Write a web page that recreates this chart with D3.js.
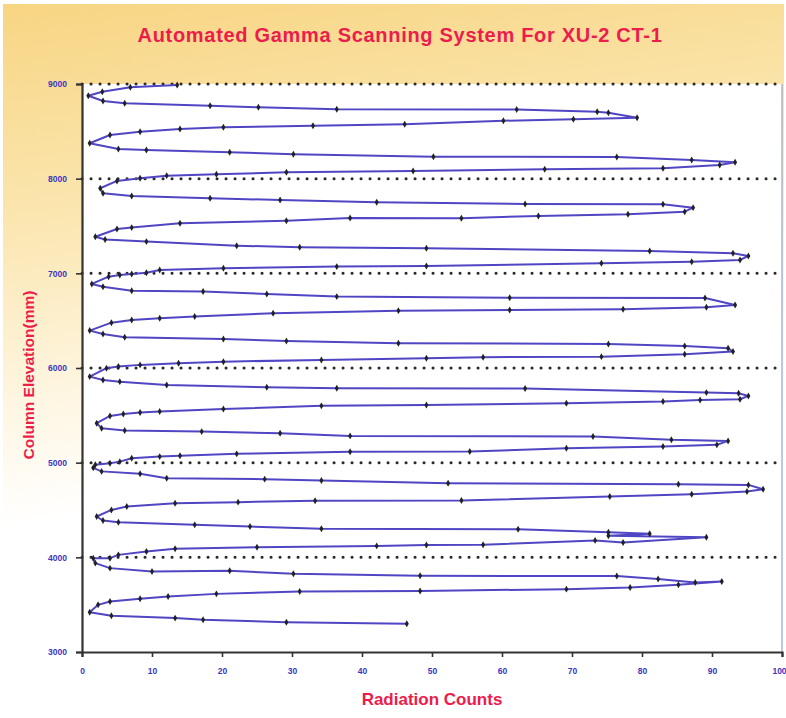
<!DOCTYPE html>
<html>
<head>
<meta charset="utf-8">
<script src="https://cdn.jsdelivr.net/npm/d3@7"></script>
<style>
  body { margin: 0; background: #fff; }
  svg { display: block; }
</style>
</head>
<body>
<svg class="chart" width="786" height="718"></svg>
<script>
// scan readings, in scan order (top of column to bottom)
const radiationCounts = [
  13.6, 6.9, 2.9, 0.9,
  3.0, 6.1, 18.3, 25.2, 36.4, 62.1, 73.6, 75.2, 79.3,
  70.2, 60.2, 46.1, 33.0, 20.2, 14.0, 8.3, 4.0, 1.1,
  5.2, 9.2, 21.1, 30.2, 50.2, 76.4, 87.1, 93.3,
  91.1, 83.0, 66.1, 47.3, 29.2, 19.2, 12.1, 8.3, 5.0, 2.6,
  3.0, 7.1, 18.3, 28.3, 42.1, 63.3, 83.0, 87.3,
  86.1, 78.0, 65.2, 54.2, 38.3, 29.2, 14.0, 7.1, 5.0, 1.9,
  3.3, 9.2, 22.1, 31.1, 49.2, 81.1, 93.0, 95.2,
  94.0, 87.1, 74.2, 49.2, 36.4, 20.2, 11.1, 9.2, 7.1, 5.4, 3.8, 1.4,
  3.0, 7.1, 17.3, 26.4, 36.4, 61.1, 89.0, 93.3,
  89.2, 77.3, 61.1, 45.2, 27.3, 16.1, 11.1, 7.1, 4.2, 1.1,
  3.0, 6.1, 20.2, 29.2, 45.2, 75.2, 86.1, 92.3, 93.0,
  86.1, 74.2, 57.3, 49.2, 34.2, 20.2, 13.8, 8.3, 5.2, 3.5, 1.1,
  3.0, 5.4, 12.1, 26.4, 36.4, 63.3, 89.2, 93.8, 95.2,
  94.0, 88.3, 83.0, 69.2, 49.2, 34.2, 20.2, 11.1, 8.3, 5.9, 4.0, 2.1,
  2.8, 6.1, 17.1, 28.3, 38.3, 73.0, 84.2, 92.3,
  90.7, 83.0, 69.2, 55.4, 38.3, 22.1, 14.0, 11.1, 7.1, 5.4, 4.0, 1.9, 1.6,
  2.8, 8.3, 12.1, 26.1, 34.2, 52.3, 85.2, 95.2, 97.3,
  95.0, 87.1, 75.4, 54.2, 33.3, 22.3, 13.3, 6.4, 4.2, 2.1,
  3.0, 5.2, 16.1, 24.0, 34.2, 62.3, 75.2, 81.1, 75.2, 89.2,
  77.3, 73.3, 57.3, 49.2, 42.1, 25.0, 13.3, 9.2, 5.2, 4.0, 1.6, 1.9,
  4.0, 10.0, 21.1, 30.2, 48.3, 76.4, 82.3, 87.6, 91.4,
  85.2, 78.3, 69.2, 48.3, 31.1, 19.2, 12.3, 8.3, 4.0, 2.3, 1.1,
  4.2, 13.3, 17.3, 29.2, 46.4
];
const elevations = [
  8989, 8965, 8919, 8876,
  8820, 8796, 8771, 8754, 8733, 8730, 8707, 8697, 8644,
  8627, 8612, 8574, 8560, 8543, 8525, 8496, 8461, 8374,
  8314, 8303, 8279, 8258, 8232, 8230, 8197, 8173,
  8145, 8110, 8099, 8081, 8068, 8046, 8032, 8004, 7976, 7899,
  7846, 7817, 7793, 7775, 7751, 7733, 7730, 7694,
  7651, 7624, 7606, 7582, 7585, 7556, 7529, 7483, 7469, 7387,
  7358, 7335, 7292, 7276, 7265, 7236, 7212, 7184,
  7141, 7123, 7107, 7078, 7071, 7054, 7036, 7007, 6994, 6983, 6965, 6888,
  6859, 6817, 6807, 6782, 6754, 6743, 6740, 6666,
  6642, 6621, 6613, 6606, 6579, 6543, 6526, 6508, 6479, 6395,
  6360, 6325, 6307, 6286, 6262, 6254, 6233, 6209, 6174,
  6146, 6120, 6114, 6103, 6085, 6067, 6051, 6033, 6015, 5998, 5909,
  5874, 5856, 5821, 5797, 5786, 5783, 5740, 5734, 5705,
  5670, 5663, 5645, 5628, 5610, 5600, 5568, 5540, 5529, 5515, 5494, 5417,
  5364, 5339, 5328, 5311, 5283, 5276, 5241, 5230,
  5188, 5170, 5153, 5117, 5115, 5093, 5072, 5064, 5047, 5011, 4994, 4977, 4945,
  4908, 4882, 4836, 4826, 4811, 4783, 4773, 4765, 4720,
  4695, 4667, 4642, 4600, 4598, 4583, 4572, 4536, 4501, 4431,
  4388, 4371, 4343, 4325, 4301, 4297, 4266, 4248, 4227, 4213,
  4156, 4179, 4132, 4130, 4121, 4107, 4090, 4061, 4026, 3991, 3990, 3939,
  3886, 3850, 3858, 3826, 3805, 3803, 3770, 3734, 3745,
  3710, 3681, 3664, 3644, 3639, 3614, 3586, 3562, 3533, 3498, 3421,
  3382, 3358, 3340, 3315, 3298
];
// dotted reference elevations
const levelLines = [9000, 8000, 7000, 6000, 5000, 4000];
const xTicks = [0, 10, 20, 30, 40, 50, 60, 70, 80, 90, 100];
const yTicks = [3000, 4000, 5000, 6000, 7000, 8000, 9000];

const data = radiationCounts.map((c, i) => ({ count: c, elev: elevations[i] }));

const svg = d3.select(".chart");
const plotL = 82, plotR = 782, plotT = 84, plotB = 652;

// background gradient
const grad = svg.append("defs").append("linearGradient")
  .attr("id", "bg").attr("x1", 0).attr("y1", 0).attr("x2", 0.15).attr("y2", 1);
grad.append("stop").attr("offset", "0%").attr("stop-color", "#f7d583");
grad.append("stop").attr("offset", "30%").attr("stop-color", "#fbe6b0");
grad.append("stop").attr("offset", "55%").attr("stop-color", "#fef6e2");
grad.append("stop").attr("offset", "72%").attr("stop-color", "#ffffff");

svg.append("rect")
  .attr("x", 3).attr("y", 4).attr("width", 781).attr("height", 712)
  .attr("fill", "url(#bg)");

const xScale = d3.scaleLinear().domain([0, 100]).range([plotL, plotR]);
const yScale = d3.scaleLinear().domain([3000, 9000]).range([plotB, plotT]);

// plot area
svg.append("rect")
  .attr("x", plotL).attr("y", plotT)
  .attr("width", plotR - plotL).attr("height", plotB - plotT)
  .attr("fill", "#fff");
svg.append("line")
  .attr("x1", plotR).attr("x2", plotR).attr("y1", plotT).attr("y2", plotB)
  .attr("stroke", "#8fa6c8").attr("stroke-width", 1.2);

// dotted level lines
svg.selectAll(".level")
  .data(levelLines)
  .enter()
  .append("line")
  .attr("class", "level")
  .attr("x1", xScale(0)).attr("x2", xScale(100))
  .attr("y1", d => yScale(d)).attr("y2", d => yScale(d))
  .attr("stroke", "#2a2a2a")
  .attr("stroke-width", 3)
  .attr("stroke-linecap", "round")
  .attr("stroke-dasharray", "0.1 8.9");

// axes
const yAxis = svg.append("g")
  .attr("transform", `translate(${plotL},0)`)
  .call(d3.axisLeft(yScale).tickValues(yTicks).tickSize(6).tickPadding(9).tickFormat(d3.format("d")));
const xAxis = svg.append("g")
  .attr("transform", `translate(0,${plotB})`)
  .call(d3.axisBottom(xScale).tickValues(xTicks).tickSize(5).tickPadding(11));

[xAxis, yAxis].forEach(ax => {
  ax.select(".domain").attr("stroke", "#333").attr("stroke-width", 2.2);
  ax.selectAll(".tick line").attr("stroke", "#333").attr("stroke-width", 1.6);
  ax.selectAll("text")
    .attr("fill", "#3c36c2")
    .style("font-family", "'Liberation Sans', Arial, sans-serif")
    .style("font-weight", "bold")
    .style("font-size", "8.5px");
});
// keep the last x label inside the page
xAxis.selectAll(".tick text").filter(d => d === 100).attr("dx", "-3");

// scan line
const line = d3.line()
  .x(d => xScale(d.count))
  .y(d => yScale(d.elev));

svg.append("path")
  .datum(data)
  .attr("fill", "none")
  .attr("stroke", "#5046c4")
  .attr("stroke-width", 2)
  .attr("stroke-linejoin", "round")
  .attr("d", line);

svg.selectAll(".pt")
  .data(data)
  .enter()
  .append("path")
  .attr("class", "pt")
  .attr("transform", d => `translate(${xScale(d.count)},${yScale(d.elev)})`)
  .attr("d", d3.symbol().type(d3.symbolDiamond).size(14))
  .attr("fill", "#222");

// titles
svg.append("text")
  .attr("x", 400).attr("y", 42)
  .attr("text-anchor", "middle")
  .attr("fill", "#ec1c4c")
  .style("font-family", "'Liberation Sans', Arial, sans-serif")
  .style("font-weight", "bold")
  .style("font-size", "20px")
  .style("letter-spacing", "0.7px")
  .text("Automated Gamma Scanning System For XU-2 CT-1");

svg.append("text")
  .attr("x", 432).attr("y", 705)
  .attr("text-anchor", "middle")
  .attr("fill", "#ec1c4c")
  .style("font-family", "'Liberation Sans', Arial, sans-serif")
  .style("font-weight", "bold")
  .style("font-size", "17px")
  .text("Radiation Counts");

svg.append("text")
  .attr("transform", "rotate(-90)")
  .attr("x", -375).attr("y", 34)
  .attr("text-anchor", "middle")
  .attr("fill", "#ec1c4c")
  .style("font-family", "'Liberation Sans', Arial, sans-serif")
  .style("font-weight", "bold")
  .style("font-size", "15.5px")
  .text("Column Elevation(mm)");
</script>
</body>
</html>
